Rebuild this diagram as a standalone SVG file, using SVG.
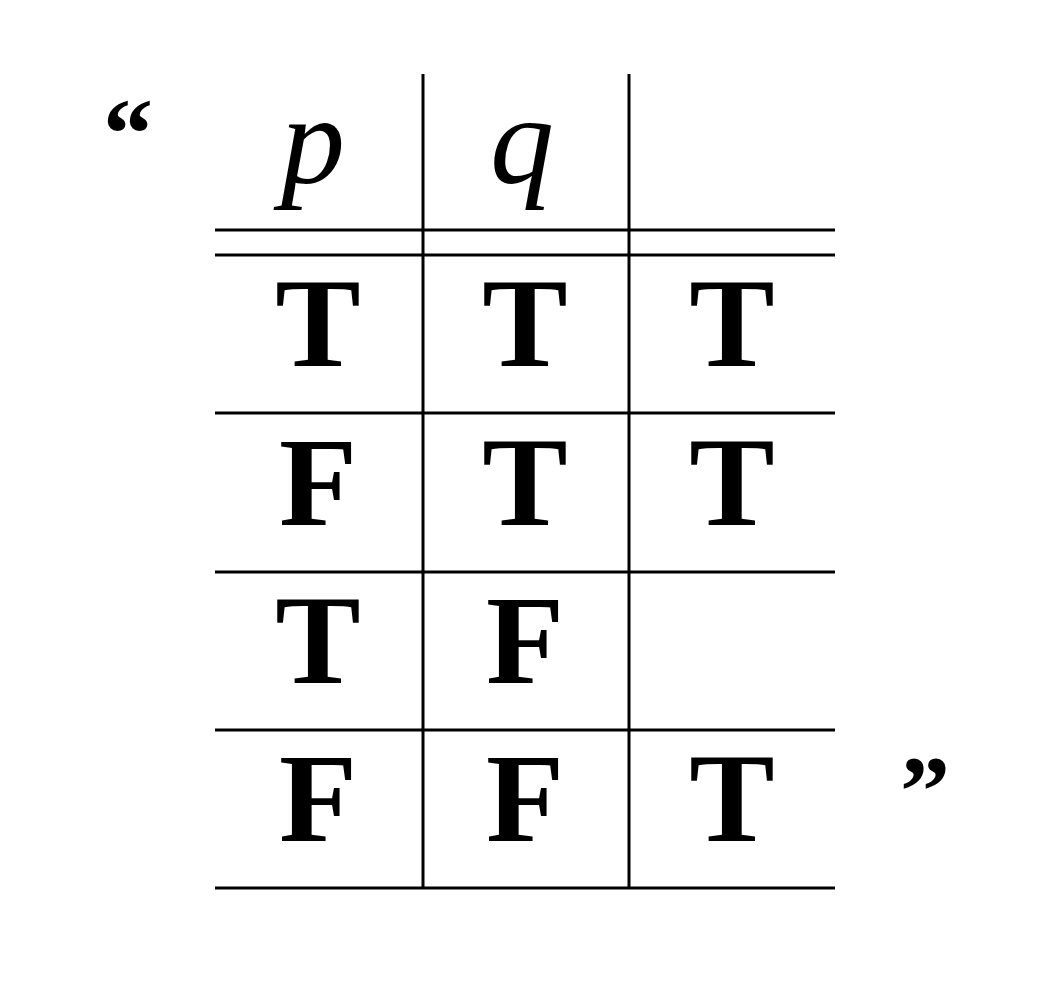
<svg xmlns="http://www.w3.org/2000/svg" width="1050" height="996" viewBox="0 0 1050 996">
<style>
.ln{stroke:#000;stroke-width:3;fill:none}
.v{font-family:"Liberation Serif",serif;font-weight:bold;font-size:128px;text-anchor:middle;fill:#000}
.h{font-family:"Liberation Serif",serif;font-style:italic;font-size:128px;text-anchor:middle;fill:#000}
.qt{font-family:"Liberation Serif",serif;font-weight:bold;font-size:100px;fill:#000}
</style>
<rect width="1050" height="996" fill="#fff"/>
<g id="connectors">
<line class="ln" x1="423" y1="74" x2="423" y2="888"/>
<line class="ln" x1="629" y1="74" x2="629" y2="888"/>
<line class="ln" x1="215" y1="230" x2="835" y2="230"/>
<line class="ln" x1="215" y1="255" x2="835" y2="255"/>
<line class="ln" x1="215" y1="413" x2="835" y2="413"/>
<line class="ln" x1="215" y1="572" x2="835" y2="572"/>
<line class="ln" x1="215" y1="730" x2="835" y2="730"/>
<line class="ln" x1="215" y1="888" x2="835" y2="888"/>
</g>
<g id="quotes">
<text class="qt" x="103" y="167">“</text>
<text class="qt" x="900" y="824">”</text>
</g>
<g id="header">
<text class="h" x="313" y="183">p</text>
<text class="h" x="522" y="183">q</text>
</g>
<g id="row1">
<text class="v" x="318" y="366">T</text>
<text class="v" x="525" y="366">T</text>
<text class="v" x="732" y="366">T</text>
</g>
<g id="row2">
<text class="v" x="318" y="525">F</text>
<text class="v" x="525" y="525">T</text>
<text class="v" x="732" y="525">T</text>
</g>
<g id="row3">
<text class="v" x="318" y="683">T</text>
<text class="v" x="525" y="683">F</text>
</g>
<g id="row4">
<text class="v" x="318" y="841">F</text>
<text class="v" x="525" y="841">F</text>
<text class="v" x="732" y="841">T</text>
</g>
</svg>
